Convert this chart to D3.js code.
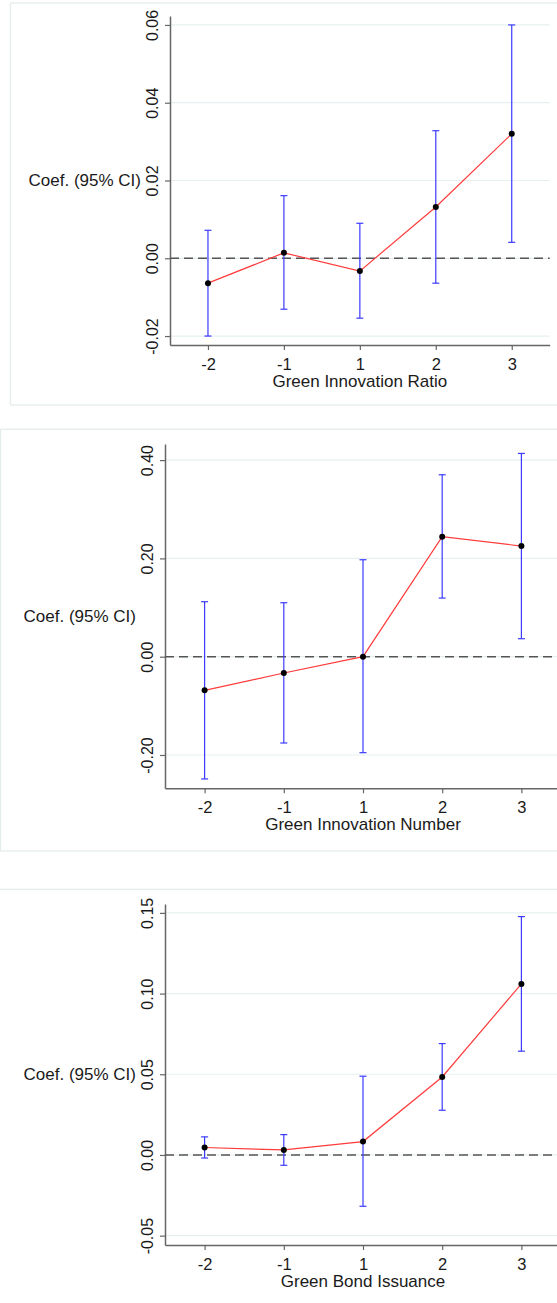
<!DOCTYPE html>
<html>
<head>
<meta charset="utf-8">
<script src="https://cdn.jsdelivr.net/npm/d3@7"></script>
<style>
  html, body { margin: 0; padding: 0; background: #fff; }
  svg { display: block; font-family: "Liberation Sans", Arial, sans-serif; }
</style>
</head>
<body>
<svg id="chart" width="557" height="1303"></svg>
<script>
// event-time categories (x axis)
const categories = ["-2", "-1", "1", "2", "3"];

// Green Innovation Ratio
const ratioCoef = [-0.0064, 0.0014, -0.0033, 0.0132, 0.0320];
const ratioLow  = [-0.0200, -0.0131, -0.0154, -0.0064, 0.0041];
const ratioHigh = [0.0072, 0.0161, 0.0090, 0.0328, 0.0600];
const ratioTicks = [-0.02, 0, 0.02, 0.04, 0.06];

// Green Innovation Number
const numberCoef = [-0.0685, -0.0332, 0.0000, 0.2441, 0.2251];
const numberLow  = [-0.2488, -0.1756, -0.1953, 0.1193, 0.0366];
const numberHigh = [0.1119, 0.1098, 0.1973, 0.3702, 0.4136];
const numberTicks = [-0.2, 0, 0.2, 0.4];

// Green Bond Issuance
const bondCoef = [0.0046, 0.0031, 0.0083, 0.0483, 0.1060];
const bondLow  = [-0.0019, -0.0064, -0.0318, 0.0277, 0.0643];
const bondHigh = [0.0112, 0.0126, 0.0488, 0.0690, 0.1477];
const bondTicks = [-0.05, 0, 0.05, 0.10, 0.15];

const yTitle = "Coef. (95% CI)";

const panels = [
  { title: "Green Innovation Ratio", coef: ratioCoef, low: ratioLow, high: ratioHigh, ticks: ratioTicks,
    left: 170, right: 549.7, top: 16, bottom: 345, dom: [-0.0223, 0.0623] },
  { title: "Green Innovation Number", coef: numberCoef, low: numberLow, high: numberHigh, ticks: numberTicks,
    left: 165, right: 561, top: 444, bottom: 788.3, dom: [-0.2678, 0.4328] },
  { title: "Green Bond Issuance", coef: bondCoef, low: bondLow, high: bondHigh, ticks: bondTicks,
    left: 165, right: 561, top: 904, bottom: 1245, dom: [-0.0558, 0.1555] }
];

const fmt = d3.format(".2f");
const svg = d3.select("#chart");

// faint frames around the panels
const frame = "#e4ecec";
svg.append("rect").attr("x", 10.5).attr("y", 3).attr("width", 600).attr("height", 402)
  .attr("fill", "none").attr("stroke", frame).attr("stroke-width", 1.3);
svg.append("rect").attr("x", 0.5).attr("y", 429.3).attr("width", 600).attr("height", 421.7)
  .attr("fill", "none").attr("stroke", frame).attr("stroke-width", 1.3);
svg.append("line").attr("x1", 0).attr("x2", 557).attr("y1", 889.3).attr("y2", 889.3)
  .attr("stroke", frame).attr("stroke-width", 1.3);

panels.forEach(p => {
  const g = svg.append("g");

  const x = d3.scalePoint()
    .domain(categories)
    .range([p.left, p.right])
    .padding(0.5);

  const y = d3.scaleLinear()
    .domain(p.dom)
    .range([p.bottom, p.top]);

  // gridlines
  g.selectAll(".grid")
    .data(p.ticks)
    .enter()
    .append("line")
    .attr("x1", p.left).attr("x2", p.right)
    .attr("y1", d => y(d)).attr("y2", d => y(d))
    .attr("stroke", "#e6f0f1")
    .attr("stroke-width", 1.2);

  // y axis (plain hyphen for negatives, like the original)
  const yAxis = g.append("g")
    .attr("transform", "translate(" + p.left + ",0)")
    .call(d3.axisLeft(y).tickValues(p.ticks)
      .tickFormat(d => fmt(d).replace("\u2212", "-"))
      .tickSize(5).tickSizeOuter(0));
  yAxis.select(".domain").attr("stroke", "#666").attr("stroke-width", 1.5);
  yAxis.selectAll(".tick line").attr("stroke", "#666").attr("stroke-width", 1.2);
  yAxis.selectAll("text")
    .attr("x", 0).attr("y", -12).attr("dy", 0)
    .attr("transform", "rotate(-90)")
    .style("text-anchor", "middle")
    .style("font-size", "16px")
    .style("font-family", "Liberation Sans, Arial, sans-serif")
    .attr("fill", "#1a1a1a");

  // x axis
  const xAxis = g.append("g")
    .attr("transform", "translate(0," + p.bottom + ")")
    .call(d3.axisBottom(x).tickSize(5).tickSizeOuter(0));
  xAxis.select(".domain").attr("stroke", "#666").attr("stroke-width", 1.5);
  xAxis.selectAll(".tick line").attr("stroke", "#666").attr("stroke-width", 1.2);
  xAxis.selectAll("text")
    .attr("y", 24.5).attr("dy", 0)
    .style("font-size", "16.5px")
    .style("font-family", "Liberation Sans, Arial, sans-serif")
    .attr("fill", "#1a1a1a");

  // zero reference line
  g.append("line")
    .attr("x1", p.left).attr("x2", p.right)
    .attr("y1", y(0)).attr("y2", y(0))
    .attr("stroke", "#555")
    .attr("stroke-width", 1.4)
    .attr("stroke-dasharray", "9,5");

  // confidence intervals
  const ci = g.selectAll(".ci")
    .data(categories.map((c, i) => ({ c: c, lo: p.low[i], hi: p.high[i] })))
    .enter()
    .append("g");
  ci.append("line")
    .attr("x1", d => x(d.c)).attr("x2", d => x(d.c))
    .attr("y1", d => y(d.lo)).attr("y2", d => y(d.hi))
    .attr("stroke", "#3b3bff").attr("stroke-width", 1.2);
  ["lo", "hi"].forEach(k => {
    ci.append("line")
      .attr("x1", d => x(d.c) - 3.5).attr("x2", d => x(d.c) + 3.5)
      .attr("y1", d => y(d[k])).attr("y2", d => y(d[k]))
      .attr("stroke", "#3b3bff").attr("stroke-width", 1.2);
  });

  // coefficient line
  g.append("path")
    .datum(categories.map((c, i) => [c, p.coef[i]]))
    .attr("fill", "none")
    .attr("stroke", "#ff3b3b")
    .attr("stroke-width", 1.2)
    .attr("d", d3.line().x(d => x(d[0])).y(d => y(d[1])));

  // points
  g.selectAll(".pt")
    .data(categories.map((c, i) => [c, p.coef[i]]))
    .enter()
    .append("circle")
    .attr("cx", d => x(d[0]))
    .attr("cy", d => y(d[1]))
    .attr("r", 3)
    .attr("fill", "#000");

  // axis titles
  g.append("text")
    .attr("x", p.left - 29)
    .attr("y", (p.top + p.bottom) / 2)
    .attr("dy", "0.35em")
    .attr("text-anchor", "end")
    .style("font-size", "17px")
    .attr("fill", "#1a1a1a")
    .text(yTitle);

  g.append("text")
    .attr("x", (p.left + p.right) / 2)
    .attr("y", p.bottom + 41.5)
    .attr("text-anchor", "middle")
    .style("font-size", "17px")
    .attr("fill", "#1a1a1a")
    .text(p.title);
});
</script>
</body>
</html>
